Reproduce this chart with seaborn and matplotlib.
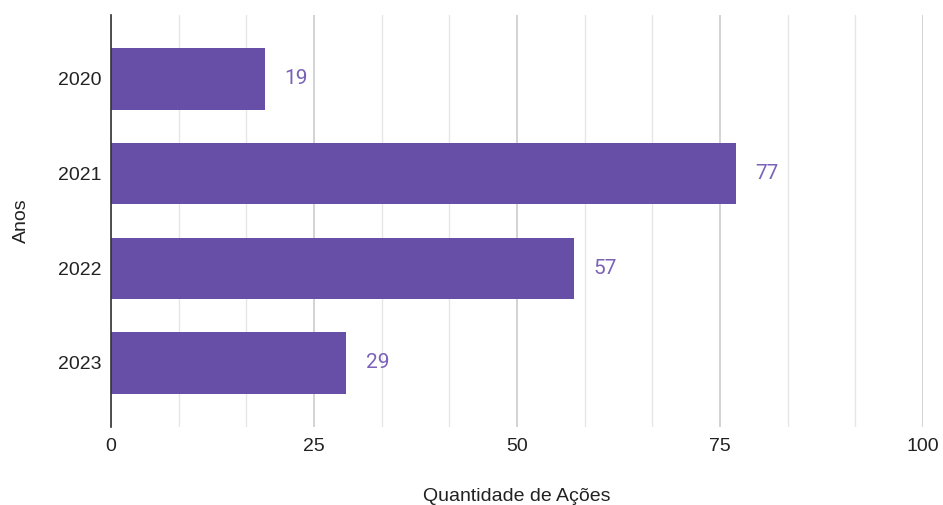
import pandas as pd
import matplotlib.pyplot as plt
import seaborn as sns
from matplotlib.ticker import MultipleLocator

anos = ['2020', '2021', '2022', '2023']
quantidade = [19, 77, 57, 29]

sns.set_style('white')
plt.rcParams['font.family'] = ['Liberation Sans', 'DejaVu Sans']

dados = pd.DataFrame({'Anos': anos, 'Quantidade': quantidade})

fig = plt.figure(figsize=(9.43, 5.05), dpi=100)
ax = fig.add_axes([0.1177, 0.1545, 0.861, 0.8158])
sns.barplot(data=dados, x='Quantidade', y='Anos', color='#674ea7', saturation=1,
            width=0.65, linewidth=0, ax=ax, zorder=3)

ax.set_xlim(0, 100)
ax.set_ylim(3.676, -0.676)
ax.xaxis.set_major_locator(MultipleLocator(25))
ax.xaxis.set_minor_locator(MultipleLocator(25 / 3))
ax.grid(axis='x', which='major', color='#cccccc', linewidth=1.2, zorder=0)
ax.grid(axis='x', which='minor', color='#e6e6e6', linewidth=1, zorder=0)
ax.set_axisbelow(True)
for s in ['top', 'right', 'bottom']:
    ax.spines[s].set_visible(False)
ax.spines['left'].set_color('#333333')
ax.spines['left'].set_linewidth(1.2)
ax.spines['left'].set_zorder(4)
ax.tick_params(axis='both', length=0, labelsize=14, colors='#222222')
ax.tick_params(axis='x', pad=8)
ax.tick_params(axis='y', pad=7)

ax.bar_label(ax.containers[0], padding=14, fontsize=15, color='#7b62b8',
             family=['Roboto', 'DejaVu Sans'])

ax.set_xlabel('Quantidade de Ações', fontsize=14, color='#222222', labelpad=24)
ax.set_ylabel('Anos', fontsize=14, color='#222222', labelpad=20)

plt.savefig('out.png', dpi=100)
